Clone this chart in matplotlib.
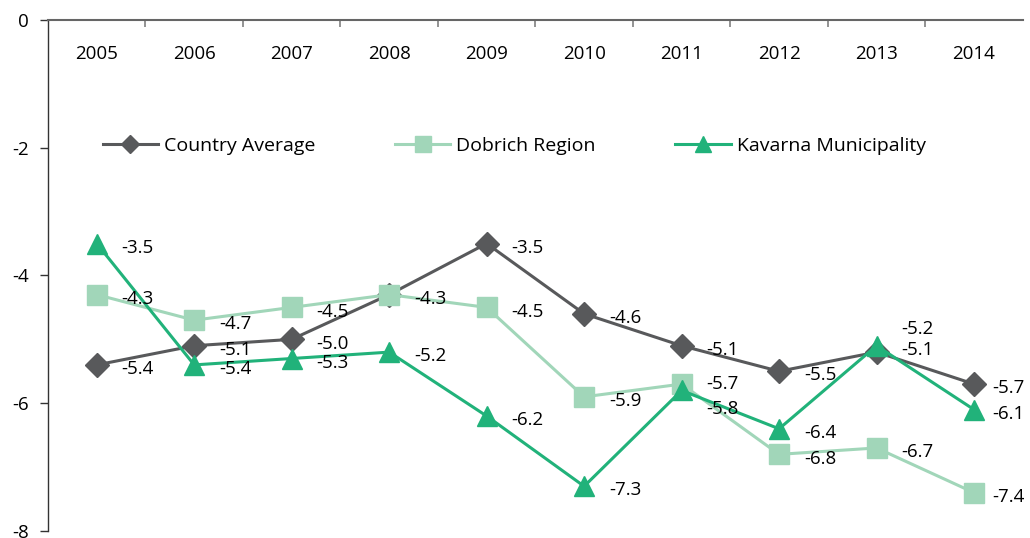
import matplotlib
matplotlib.use("Agg")
import matplotlib.pyplot as plt

years = ["2005", "2006", "2007", "2008", "2009", "2010", "2011", "2012", "2013", "2014"]
country = [-5.4, -5.1, -5.0, -4.3, -3.5, -4.6, -5.1, -5.5, -5.2, -5.7]
dobrich = [-4.3, -4.7, -4.5, -4.3, -4.5, -5.9, -5.7, -6.8, -6.7, -7.4]
kavarna = [-3.5, -5.4, -5.3, -5.2, -6.2, -7.3, -5.8, -6.4, -5.1, -6.1]
series_names = ["Country Average", "Dobrich Region", "Kavarna Municipality"]

plt.rcParams['font.family'] = ['Open Sans', 'DejaVu Sans']

fig = plt.figure(figsize=(10.30, 5.38), dpi=100)
ax = fig.add_axes([0.0466, 0.013, 0.9464, 0.950])

x = list(range(len(years)))
styles = [
    dict(color="#58595b", marker="D", ms=12, zorder=3),
    dict(color="#a1d6b9", marker="s", ms=15, zorder=4),
    dict(color="#21b27a", marker="^", ms=15, zorder=5),
]
data = [country, dobrich, kavarna]
for name, vals, st in zip(series_names, data, styles):
    ax.plot(x, vals, color=st["color"], lw=2.2, marker=st["marker"], ms=st["ms"],
            mec=st["color"], mfc=st["color"], zorder=st["zorder"], label=name)

# data label vertical offsets (points) where the default would collide
special_dy = {(0, 8): 17, (2, 6): -13, (1, 6): 0}
skip = {(0, 3)}  # hidden under the Dobrich label at the same spot
for si, vals in enumerate(data):
    for i, v in enumerate(vals):
        if (si, i) in skip:
            continue
        dy = special_dy.get((si, i), -3)
        dx = 13 if i == len(vals) - 1 else 18
        ax.annotate(f"{v:.1f}", (i, v), xytext=(dx, dy),
                    textcoords="offset points", ha="left", va="center",
                    fontsize=13.5, color="black", zorder=6, annotation_clip=False)

ax.set_xlim(-0.5, len(years) - 0.5)
ax.set_ylim(-8, 0)
ax.set_yticks([0, -2, -4, -6, -8])
ax.set_yticklabels(["0", "-2", "-4", "-6", "-8"])

ax.xaxis.tick_top()
ax.set_xticks(x)
ax.set_xticklabels(years)
ax.set_xticks([i + 0.5 for i in range(len(years) - 1)], minor=True)
ax.tick_params(axis="x", which="major", length=0, pad=-31, labelsize=13.5)
ax.tick_params(axis="x", which="minor", length=5, direction="in", color="#808080", width=1.2)
ax.tick_params(axis="y", which="major", length=6, width=1, color="#333333", pad=8, labelsize=13.5)

for s in ["bottom", "right"]:
    ax.spines[s].set_visible(False)
ax.spines["top"].set_color("#666666")
ax.spines["top"].set_linewidth(1.5)
ax.spines["left"].set_color("#333333")
ax.spines["left"].set_linewidth(1)

leg = ax.legend(loc="center left", bbox_to_anchor=(0.056, 0.754), ncol=3, frameon=False,
                fontsize=14, handlelength=2.85, handletextpad=0.3, columnspacing=4.1,
                borderaxespad=0, borderpad=0, markerscale=0.8)

fig.savefig("out.png", dpi=100)
